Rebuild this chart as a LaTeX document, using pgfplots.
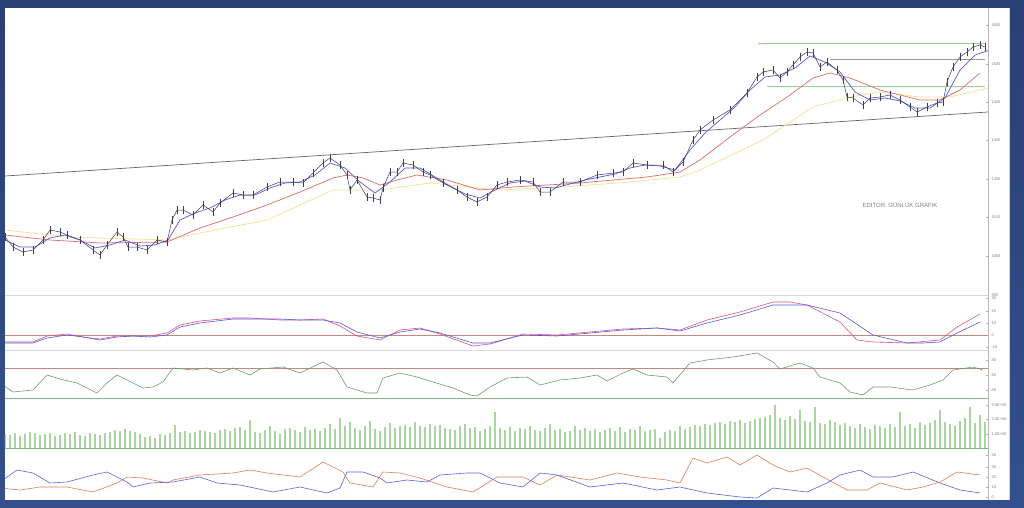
\documentclass[border=0pt]{standalone}
\usepackage{pgfplots}
\pgfplotsset{compat=1.18}
\usepackage{fontspec}
\setmainfont{Liberation Sans}
\definecolor{frameblue}{HTML}{33508C}
\definecolor{frametop}{HTML}{2A3F74}
\definecolor{pricec}{HTML}{3A3F5C}
\definecolor{ma1}{HTML}{5A5AD8}
\definecolor{ma2}{HTML}{E06A6A}
\definecolor{ma3}{HTML}{F6E39A}
\definecolor{hgreen}{HTML}{92D892}
\definecolor{macdb}{HTML}{5A5AE0}
\definecolor{macdr}{HTML}{E0508A}
\definecolor{zeroc}{HTML}{C08A80}
\definecolor{rsig}{HTML}{6A9E6A}
\definecolor{volg}{HTML}{A9D6A0}
\definecolor{baseg}{HTML}{80B880}
\definecolor{dmir}{HTML}{E27A5A}
\definecolor{dmib}{HTML}{5A62DE}
\pgfplotsset{
  panel/.style={scale only axis, width=983pt, xmin=5, xmax=988,
    axis x line=none, axis y line*=right,
    y axis line style={draw=gray!55, line width=0.5pt},
    yticklabel style={font=\fontsize{4}{4}\selectfont, text=gray},
    major tick length=2pt, tick style={gray!60},
    every axis plot/.append style={line width=0.6pt}}
}
\begin{document}
\begin{tikzpicture}[x=1pt,y=1pt]
\shade[top color=frametop, bottom color=frameblue] (0,0) rectangle (1024,507);
\fill[white] (5,7) rectangle (1009,499);
\draw[gray!35] (1009,7) -- (1009,499);
% main price panel
\begin{axis}[panel, at={(5pt,212pt)}, height=287pt, ymin=5, ymax=292,
  ytick={275,236,198,160,121,83,44,5},
  yticklabels={1600,1500,1400,1300,1200,1100,1000,900}]
\addplot[hgreen, line width=0.8pt] coordinates {(758,257)(985,257)};
\addplot[gray!80, line width=0.8pt] coordinates {(830,241)(985,241)};
\addplot[hgreen, line width=0.8pt] coordinates {(767,214)(985,214)};
\addplot[gray!80!black, line width=0.7pt] coordinates {(5,124)(988,188)};
\addplot[ma3, line width=0.8pt] coordinates {(5,70)(67,63)(167,60)(200,67)(267,80)(333,110)(380,110)(430,117)(497,110)(563,113)(630,118)(680,123)(700,130)(763,160)(813,193)(850,203)(880,208)(920,203)(950,203)(988,212)};
\addplot[ma2, line width=0.7pt] coordinates {(5,65)(50,60)(100,57)(167,58)(200,72)(233,83)(267,95)(300,108)(333,122)(347,125)(363,122)(380,115)(397,120)(417,125)(447,120)(480,110)(513,113)(547,115)(580,117)(613,120)(647,123)(680,128)(700,140)(730,163)(760,185)(790,205)(813,222)(830,227)(850,222)(880,210)(920,200)(940,200)(960,210)(980,227)};
\addplot[ma1, line width=0.7pt] coordinates {(5,60)(20,53)(35,53)(50,62)(65,65)(80,60)(95,52)(110,55)(125,60)(140,54)(155,55)(168,60)(180,80)(195,87)(210,92)(225,100)(240,105)(255,105)(270,112)(285,117)(300,118)(315,125)(330,137)(345,132)(360,118)(375,107)(390,118)(405,132)(420,132)(435,123)(450,114)(465,106)(480,102)(495,110)(510,117)(525,119)(540,113)(555,112)(570,116)(585,120)(600,123)(615,126)(630,132)(645,135)(660,134)(675,130)(690,150)(705,167)(720,180)(735,193)(750,210)(765,223)(780,225)(795,232)(810,244)(825,238)(840,228)(855,208)(870,200)(885,202)(900,199)(915,192)(930,192)(945,202)(960,230)(975,245)(990,250)};
\addplot[pricec, line width=0.5pt,
  error bars/.cd, y dir=both, y fixed=4, error mark=none,
  error bar style={pricec, line width=0.6pt}]
  coordinates {(5,63)(13,53)(23,48)(33,50)(43,60)(50,70)(60,68)(67,65)(80,60)(93,50)(100,45)(107,55)(117,68)(123,63)(128,53)(137,53)(147,50)(157,60)(167,58)(172,80)(177,90)(183,90)(193,85)(203,95)(213,88)(220,97)(233,107)(243,105)(253,105)(267,113)(280,118)(293,118)(303,117)(313,127)(323,137)(330,142)(340,135)(347,125)(350,110)(357,120)(367,103)(373,102)(380,100)(383,112)(390,128)(397,128)(403,137)(413,135)(423,128)(430,125)(443,117)(457,110)(467,103)(477,98)(487,103)(497,115)(507,118)(520,120)(533,118)(540,108)(550,108)(563,118)(580,118)(597,125)(613,127)(623,128)(633,137)(647,135)(663,135)(673,128)(683,138)(693,160)(700,170)(713,180)(730,190)(747,207)(757,223)(763,228)(773,230)(780,222)(787,228)(793,235)(800,243)(807,248)(813,247)(820,233)(827,238)(837,230)(843,220)(847,203)(853,202)(863,195)(870,202)(880,203)(890,205)(900,200)(910,193)(917,188)(927,193)(937,197)(943,198)(947,218)(953,233)(960,243)(967,248)(973,253)(980,255)(985,253)};
\node[font=\fontsize{6}{6}\selectfont, text=gray] at (axis cs:900,95) {EDITOR: GÜNLÜK GRAFIK};
\end{axis}
% MACD
\begin{axis}[panel, at={(5pt,157pt)}, height=55pt, ymin=-15, ymax=40,
  ytick={37,24,12,0,-12}, yticklabels={30,20,10,0,-10}]
\addplot[zeroc, line width=0.8pt] coordinates {(5,0)(988,0)};
\addplot[macdr] coordinates {(0,-7)(33,-7)(47,-1)(67,1)(83,-2)(100,-4)(117,-1)(133,-1)(150,-1)(167,2)(180,10)(200,14)(233,17)(250,17)(280,15)(300,15)(323,16)(340,9)(357,-1)(380,-5)(400,5)(420,7)(440,1)(473,-11)(490,-9)(523,1)(557,0)(590,3)(623,6)(657,7)(680,5)(707,15)(740,23)(773,33)(790,33)(807,30)(840,13)(857,-5)(873,-7)(907,-8)(940,-5)(957,8)(980,21)};
\addplot[macdb] coordinates {(0,-8)(33,-8)(47,-3)(67,0)(83,-2)(100,-5)(117,-2)(133,-1)(150,-2)(167,0)(180,8)(200,12)(233,16)(250,16)(280,16)(300,15)(323,15)(340,12)(357,3)(380,-3)(400,3)(420,6)(440,2)(473,-8)(490,-8)(523,0)(557,-1)(590,2)(623,5)(657,7)(680,4)(707,12)(740,20)(773,30)(807,30)(840,22)(873,0)(907,-8)(923,-8)(940,-7)(957,2)(980,13)};
\end{axis}
% RSI
\begin{axis}[panel, at={(5pt,108pt)}, height=49pt, ymin=-1, ymax=48,
  ytick={38,23,8}, yticklabels={80,60,40}]
\addplot[zeroc, line width=0.8pt] coordinates {(5,30)(988,30)};
\addplot[baseg, line width=0.8pt] coordinates {(5,0)(988,0)};
\addplot[rsig] coordinates {(0,15)(13,6)(33,8)(47,23)(60,19)(77,15)(97,5)(107,15)(117,23)(133,15)(143,10)(153,11)(163,16)(173,30)(193,28)(207,30)(220,25)(233,30)(250,23)(260,29)(283,31)(300,25)(323,36)(337,28)(347,11)(367,5)(377,5)(383,20)(400,25)(417,21)(433,16)(453,10)(470,3)(477,2)(490,11)(507,20)(527,21)(540,13)(560,18)(580,20)(597,23)(607,17)(623,25)(633,29)(647,23)(667,21)(673,15)(690,35)(707,38)(733,41)(757,45)(773,36)(780,29)(800,35)(813,30)(820,21)(840,15)(850,6)(863,3)(873,11)(890,11)(913,8)(930,13)(943,18)(953,28)(973,31)(983,28)};
\end{axis}
% Volume
\begin{axis}[panel, at={(5pt,57pt)}, height=51pt, ymin=-2, ymax=49,
  ytick={43,29,14}, yticklabels={3.0E+06,2.0E+06,1.0E+06}]
\addplot[baseg, line width=0.8pt] coordinates {(5,0)(988,0)};
\addplot[ycomb, volg, line width=1.1pt] table[row sep=\\] {
x y\\
5 14\\ 10 13\\ 15 15\\ 20 12\\ 25 14\\ 30 16\\ 35 15\\ 40 13\\ 45 14\\ 50 15\\
55 12\\ 60 13\\ 65 15\\ 70 14\\ 75 16\\ 80 13\\ 85 12\\ 90 15\\ 95 14\\ 100 13\\
105 15\\ 110 16\\ 115 18\\ 120 17\\ 125 19\\ 130 17\\ 135 16\\ 140 14\\ 145 11\\ 150 12\\
155 10\\ 160 14\\ 165 13\\ 170 15\\ 175 23\\ 180 16\\ 185 17\\ 190 15\\ 195 16\\ 200 18\\
205 17\\ 210 16\\ 215 15\\ 220 18\\ 225 19\\ 230 17\\ 235 20\\ 240 21\\ 245 18\\ 250 28\\
255 16\\ 260 15\\ 265 18\\ 270 22\\ 275 17\\ 280 14\\ 285 19\\ 290 20\\ 295 18\\ 300 16\\
305 21\\ 310 18\\ 315 19\\ 320 17\\ 325 20\\ 330 24\\ 335 19\\ 340 30\\ 345 22\\ 350 26\\
355 20\\ 360 18\\ 365 22\\ 370 27\\ 375 19\\ 380 17\\ 385 21\\ 390 25\\ 395 20\\ 400 22\\
405 23\\ 410 21\\ 415 26\\ 420 22\\ 425 21\\ 430 24\\ 435 22\\ 440 23\\ 445 20\\ 450 19\\
455 18\\ 460 22\\ 465 24\\ 470 20\\ 475 21\\ 480 17\\ 485 19\\ 490 22\\ 495 36\\ 500 20\\
505 18\\ 510 21\\ 515 17\\ 520 20\\ 525 19\\ 530 22\\ 535 18\\ 540 17\\ 545 20\\ 550 24\\
555 18\\ 560 19\\ 565 16\\ 570 17\\ 575 22\\ 580 18\\ 585 20\\ 590 17\\ 595 19\\ 600 16\\
605 18\\ 610 20\\ 615 17\\ 620 21\\ 625 16\\ 630 19\\ 635 18\\ 640 22\\ 645 17\\ 650 18\\
655 19\\ 660 10\\ 665 16\\ 670 18\\ 675 17\\ 680 22\\ 685 19\\ 690 21\\ 695 23\\ 700 22\\
705 24\\ 710 23\\ 715 25\\ 720 26\\ 725 24\\ 730 27\\ 735 26\\ 740 28\\ 745 25\\ 750 27\\
755 29\\ 760 30\\ 765 31\\ 770 33\\ 775 43\\ 780 30\\ 785 28\\ 790 32\\ 795 29\\ 800 38\\
805 27\\ 810 26\\ 815 41\\ 820 25\\ 825 24\\ 830 28\\ 835 26\\ 840 23\\ 845 25\\ 850 22\\
855 20\\ 860 24\\ 865 21\\ 870 19\\ 875 23\\ 880 22\\ 885 20\\ 890 24\\ 895 21\\ 900 36\\
905 22\\ 910 24\\ 915 20\\ 920 26\\ 925 23\\ 930 25\\ 935 28\\ 940 38\\ 945 26\\ 950 24\\
955 22\\ 960 27\\ 965 30\\ 970 41\\ 975 25\\ 980 33\\ 985 26\\
};
\end{axis}
% DMI
\begin{axis}[panel, at={(5pt,7pt)}, height=50pt, ymin=0, ymax=50,
  ytick={45,33,23,13,3}, yticklabels={40,30,20,10,0}]
\addplot[dmir] coordinates {(0,12)(20,10)(40,13)(67,13)(93,8)(117,17)(127,23)(143,22)(167,17)(173,20)(200,25)(233,27)(250,30)(267,27)(300,23)(323,38)(343,28)(350,17)(373,13)(383,28)(400,27)(420,22)(447,13)(473,8)(497,23)(523,23)(540,15)(557,25)(590,20)(617,27)(640,23)(667,20)(680,17)(693,42)(707,37)(727,43)(740,35)(757,45)(773,35)(790,28)(807,32)(823,23)(847,10)(867,10)(880,17)(907,10)(923,13)(940,18)(957,28)(980,25)};
\addplot[dmib] coordinates {(0,18)(17,30)(33,27)(50,17)(67,18)(93,25)(107,28)(127,18)(133,13)(150,17)(173,18)(200,23)(217,17)(240,15)(273,8)(300,13)(327,7)(340,12)(347,28)(363,28)(380,22)(387,17)(407,20)(427,18)(440,25)(467,27)(480,27)(500,17)(523,13)(540,27)(557,25)(590,13)(623,17)(657,10)(680,13)(707,7)(740,3)(757,2)(773,12)(807,8)(827,17)(840,25)(860,30)(873,23)(893,23)(913,28)(940,17)(960,10)(980,7)};
\end{axis}
\draw[gray!30, line width=0.6pt] (5,212) -- (988,212);
\draw[gray!30, line width=0.6pt] (5,157) -- (988,157);
\end{tikzpicture}
\end{document}
